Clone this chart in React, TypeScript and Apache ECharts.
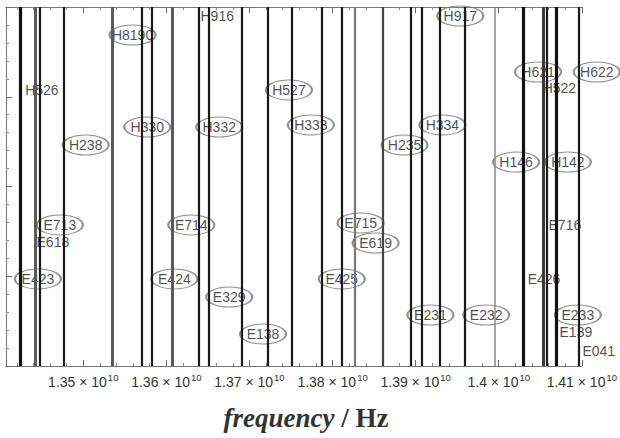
import React, { useEffect, useRef } from "react";
import * as echarts from "echarts";

// Transition frequencies (in units of 1e10 Hz) drawn as vertical lines
const lineFreqs = [
  1.34246, 1.34418, 1.34478, 1.34765, 1.35353, 1.35709, 1.35829, 1.36076,
  1.36388, 1.36508, 1.36908, 1.37215, 1.37508, 1.37867, 1.38107, 1.38267,
  1.38606, 1.38942, 1.39074, 1.39294, 1.39594, 1.39954, 1.40297, 1.40541,
  1.40581, 1.40690, 1.40964,
];
// stroke kind per line: k = black, g = grey, t = thin grey
const lineKinds = [
  "K", "G", "k", "k", "G", "k", "k", "G",
  "k", "k", "k", "k", "k", "k", "k", "g",
  "d", "k", "k", "k", "k", "t", "K", "D",
  "k", "K", "k",
];

// Assignment labels: name, frequency (1e10 Hz), level
const labelNames = [
  "H8190", "H916", "H917", "H526", "H527", "H621", "H622", "H522",
  "H330", "H332", "H333", "H334", "H238", "H235", "H146", "H142",
  "E713", "E618", "E714", "E715", "E619", "E716",
  "E423", "E424", "E425", "E426", "E329", "E138",
  "E231", "E232", "E233", "E139", "E041",
];
const labelFreqs = [
  1.35593, 1.36612, 1.39537, 1.34502, 1.37475, 1.40473, 1.41180, 1.40730,
  1.35770, 1.36636, 1.37739, 1.39322, 1.35029, 1.38866, 1.40209, 1.40832,
  1.34718, 1.34634, 1.36300, 1.38338, 1.38518, 1.40796,
  1.34454, 1.36096, 1.38111, 1.40545, 1.36756, 1.37163,
  1.39178, 1.39849, 1.40952, 1.40928, 1.41204,
];
const labelLevels = [
  18.44, 19.5, 19.5, 15.38, 15.38, 16.38, 16.38, 15.49,
  13.31, 13.31, 13.43, 13.43, 12.31, 12.31, 11.36, 11.36,
  7.86, 6.91, 7.86, 7.97, 6.85, 7.86,
  4.85, 4.85, 4.85, 4.85, 3.84, 1.78,
  2.84, 2.84, 2.84, 1.89, 0.84,
];
// labels printed without an enclosing ellipse
const plainLabels = ["H916", "H526", "H522", "E618", "E716", "E426", "E139", "E041"];

const xMin = 1.3407e10;
const xMax = 1.41e10;

const ELLIPSE = "path://M0,10A20,10,0,1,1,40,10A20,10,0,1,1,0,10Z";

const kindStyle: Record<string, { width: number; color: string }> = {
  K: { width: 3.2, color: "#111" },
  k: { width: 2.2, color: "#1a1a1a" },
  G: { width: 3, color: "#5a5a5a" },
  g: { width: 2.2, color: "#777" },
  d: { width: 2.2, color: "#444" },
  D: { width: 3, color: "#3a3a3a" },
  t: { width: 1.5, color: "#888" },
};

const SANS = "Liberation Sans, Arial, sans-serif";

function tickText(v: number): string {
  const m = Math.round(v / 1e8);
  if (Math.abs(v / 1e8 - m) > 1e-6) return "";
  const s = String(parseFloat((m / 100).toFixed(2)));
  return `{m|${s} × 10}{s|10}`;
}

export default function App() {
  const ref = useRef<HTMLDivElement>(null);

  useEffect(() => {
    if (!ref.current) return;
    const chart = echarts.init(ref.current, undefined, { renderer: "svg" });

    const boxed: any[] = [];
    const plain: any[] = [];
    labelNames.forEach((n, i) => {
      const item = { name: n, value: [labelFreqs[i] * 1e10, labelLevels[i]] };
      if (plainLabels.includes(n)) plain.push(item);
      else boxed.push(item);
    });

    const labelStyle = {
      show: true,
      position: "inside" as const,
      formatter: "{b}",
      color: "#1e1e1e",
      textBorderWidth: 0,
      textBorderColor: "transparent",
      fontFamily: SANS,
      fontSize: 14,
    };

    const tickStyle = { inside: true, length: 6, lineStyle: { color: "#666" } };
    const minorStyle = { show: true, splitNumber: 5, length: 3, lineStyle: { color: "#888" } };

    chart.setOption({
      animation: false,
      backgroundColor: "#fff",
      grid: { left: 6, right: 36, top: 7, bottom: 72 },
      xAxis: [
        {
          type: "value",
          position: "bottom",
          min: xMin,
          max: xMax,
          splitNumber: 7,
          axisLine: { show: true, lineStyle: { color: "#777", width: 1 } },
          axisTick: tickStyle,
          minorTick: minorStyle,
          splitLine: { show: false },
          axisLabel: {
            showMinLabel: false,
            margin: 6,
            fontSize: 14,
            fontFamily: SANS,
            color: "#333",
            formatter: tickText,
            rich: {
              m: { fontSize: 14, color: "#333", fontFamily: SANS },
              s: {
                fontSize: 9.5,
                color: "#333",
                fontFamily: SANS,
                padding: [0, 0, 9, 1],
              },
            },
          },
        },
        {
          type: "value",
          position: "top",
          min: xMin,
          max: xMax,
          splitNumber: 7,
          axisLine: { show: true, lineStyle: { color: "#777", width: 1 } },
          axisTick: tickStyle,
          minorTick: minorStyle,
          splitLine: { show: false },
          axisLabel: { show: false },
        },
      ],
      yAxis: {
        type: "value",
        min: 0,
        max: 20,
        interval: 5,
        axisLine: { show: true, lineStyle: { color: "#777", width: 1 } },
        axisTick: tickStyle,
        minorTick: { show: true, splitNumber: 5, length: 3, lineStyle: { color: "#888" } },
        splitLine: { show: false },
        axisLabel: { show: false },
      },
      graphic: [
        {
          type: "text",
          x: 306,
          y: 418,
          style: {
            text: "{i|frequency}{n| / Hz}",
            align: "center",
            verticalAlign: "middle",
            rich: {
              i: {
                fontFamily: "Liberation Serif, Times New Roman, serif",
                fontStyle: "italic",
                fontWeight: "bold",
                fontSize: 27,
                fill: "#333",
              },
              n: {
                fontFamily: "Liberation Serif, Times New Roman, serif",
                fontWeight: "bold",
                fontSize: 27,
                fill: "#333",
              },
            },
          },
        },
      ],
      series: [
        {
          type: "line",
          data: [],
          z: 1,
          markLine: {
            silent: true,
            symbol: ["none", "none"],
            label: { show: false },
            data: lineFreqs.map((f, i) => ({
              xAxis: f * 1e10,
              lineStyle: { type: "solid", ...kindStyle[lineKinds[i]] },
            })),
          },
        },
        {
          type: "scatter",
          z: 3,
          clip: false,
          symbol: ELLIPSE,
          symbolSize: [46, 20],
          itemStyle: { color: "rgba(0,0,0,0)", borderColor: "#777", borderWidth: 1.5 },
          label: labelStyle,
          data: boxed,
        },
        {
          type: "scatter",
          z: 3,
          clip: false,
          symbol: "rect",
          symbolSize: [40, 16],
          itemStyle: { color: "rgba(0,0,0,0)", borderWidth: 0 },
          label: labelStyle,
          data: plain,
        },
      ],
    });

    return () => chart.dispose();
  }, []);

  return (
    <div
      ref={ref}
      style={{ position: "fixed", left: 0, top: 0, width: 620, height: 438 }}
    />
  );
}
